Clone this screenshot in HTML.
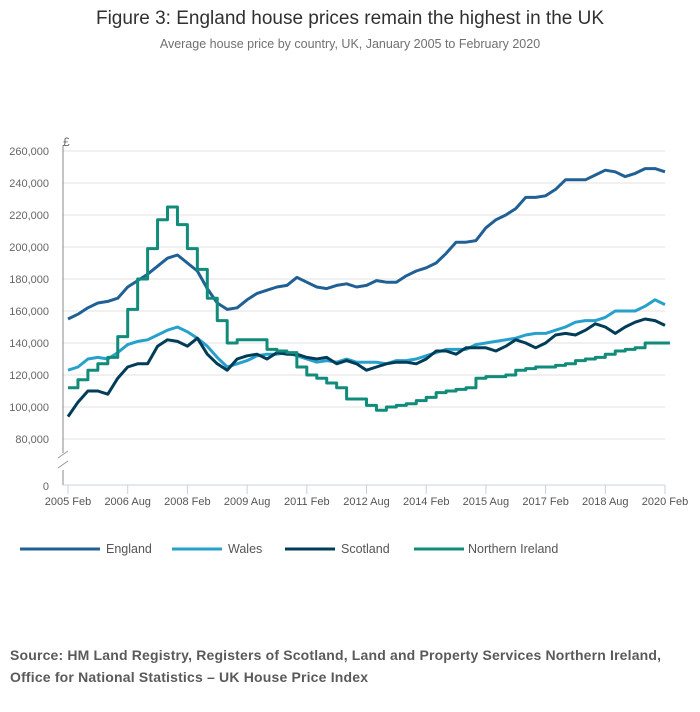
<!DOCTYPE html>
<html><head><meta charset="utf-8"><style>
html,body{margin:0;padding:0;background:#fff;}
body{width:700px;height:707px;overflow:hidden;font-family:"Liberation Sans",sans-serif;}
svg text{font-family:"Liberation Sans",sans-serif;}
</style></head><body>
<svg id="chart" width="700" height="707" xmlns="http://www.w3.org/2000/svg">
<text x="350" y="24" text-anchor="middle" font-size="19" fill="#323132">Figure 3: England house prices remain the highest in the UK</text>
<text x="350" y="48" text-anchor="middle" font-size="12.5" fill="#707070">Average house price by country, UK, January 2005 to February 2020</text>
<g id="grid"></g>
<g id="axes"></g>
<g id="series"></g>
<g id="legend"></g>
<text x="10" y="660" font-size="14" font-weight="bold" fill="#5a5a5a" textLength="651" lengthAdjust="spacing">Source: HM Land Registry, Registers of Scotland, Land and Property Services Northern Ireland,</text>
<text x="10" y="682" font-size="14" font-weight="bold" fill="#5a5a5a" textLength="358" lengthAdjust="spacing">Office for National Statistics – UK House Price Index</text>
</svg>
<script>
// Quarterly values (thousands £), Feb 2005 .. Feb 2020
const england=[155,158,162,165,166,168,175,179,183,188,193,195,190,185,174,165,161,162,167,171,173,175,176,181,178,175,174,176,177,175,176,179,178,178,182,185,187,190,196,203,203,204,212,217,220,224,231,231,232,236,242,242,242,245,248,247,244,246,249,249,247];
const wales=[123,125,130,131,130,134,139,141,142,145,148,150,147,143,138,131,125,127,129,132,133,133,134,132,130,128,129,128,130,128,128,128,127,129,129,130,132,134,136,136,136,139,140,141,142,143,145,146,146,148,150,153,154,154,156,160,160,160,163,167,164];
const scotland=[94,103,110,110,108,118,125,127,127,138,142,141,138,143,133,127,123,130,132,133,130,134,133,133,131,130,131,127,129,127,123,125,127,128,128,127,130,135,135,133,137,137,137,135,138,142,140,137,140,145,146,145,148,152,150,146,150,153,155,154,151];
const nireland=[112,117,123,127,131,144,161,180,199,217,225,214,199,186,168,154,140,142,142,142,136,135,134,125,120,118,115,112,105,105,101,98,100,101,102,104,106,109,110,111,112,118,119,119,120,123,124,125,125,126,127,129,130,131,133,135,136,137,140,140,140];
const yTicks=[80,100,120,140,160,180,200,220,240,260];
const xLabels=["2005 Feb","2006 Aug","2008 Feb","2009 Aug","2011 Feb","2012 Aug","2014 Feb","2015 Aug","2017 Feb","2018 Aug","2020 Feb"];
const seriesNames=["England","Wales","Scotland","Northern Ireland"];

const NS="http://www.w3.org/2000/svg";
const X0=68,X1=665,Y260=151;
function xq(q){return X0+(X1-X0)*q/60;}
function yv(v){return Y260+(260-v)*1.6;}
function mk(tag,attrs,parent){const e=document.createElementNS(NS,tag);for(const k in attrs)e.setAttribute(k,attrs[k]);parent.appendChild(e);return e;}
const grid=document.getElementById('grid'),axes=document.getElementById('axes'),ser=document.getElementById('series'),leg=document.getElementById('legend');
yTicks.forEach(t=>{
  const l=mk('line',{x1:63,x2:X1,y1:yv(t),y2:yv(t),stroke:'#e0e0e0','stroke-width':1},grid);
  
  
  const tx=mk('text',{x:49,y:yv(t)+4,'text-anchor':'end','font-size':11,fill:'#666'},axes);
  tx.textContent=(t*1000).toLocaleString('en-GB');
  
  
});
const zt=mk('text',{x:49,y:490,'text-anchor':'end','font-size':11,fill:'#666'},axes);zt.textContent='0';


const pound=mk('text',{x:63,y:146,'font-size':12,fill:'#666'},axes);pound.textContent='£';


const ya=mk('path',{d:'M63,145 V453 M63,470 V485',stroke:'#888','stroke-width':1,fill:'none'},axes);


const br=mk('path',{d:'M58,458 L68,451 M58,468 L68,461',stroke:'#999','stroke-width':1,fill:'none'},axes);


const xa=mk('line',{x1:63,x2:X1,y1:485,y2:485,stroke:'#c8d0e0','stroke-width':1},axes);


xLabels.forEach((s,i)=>{
  const x=xq(i*6);
  const t=mk('line',{x1:x,x2:x,y1:485,y2:494,stroke:'#c8d0e0'},axes);
  
  
  const tx=mk('text',{x:x,y:505,'text-anchor':'middle','font-size':11,fill:'#555'},axes);tx.textContent=s;
  
  
});
const colors=['#206095','#27a0cc','#003c57','#118c7b'];
const datasets=[england,wales,scotland,nireland];
datasets.forEach((d,si)=>{
  let p='';
  if(si===3){
    d.forEach((v,i)=>{p+=(i?'L'+xq(i)+','+yv(d[i-1])+' L':'M')+xq(i)+','+yv(v)+' ';});
    p+='L'+xq(60.5)+','+yv(d[d.length-1]);
  } else {
    d.forEach((v,i)=>{p+=(i?'L':'M')+xq(i)+','+yv(v)+' ';});
  }
  const e=mk('path',{d:p,fill:'none',stroke:colors[si],'stroke-width':3,'stroke-linejoin':'round'},ser);
  
  
});
const lx=[[20,100,106],[172,222,228],[285,335,341],[414,464,468]];
seriesNames.forEach((n,i)=>{
  const g=mk('g',{},leg);
  
  
  mk('line',{x1:lx[i][0],x2:lx[i][1],y1:549,y2:549,stroke:colors[i],'stroke-width':3},g);
  const t=mk('text',{x:lx[i][2],y:553,'font-size':12.5,fill:'#555'},g);t.textContent=n;
});
</script>
</body></html>
